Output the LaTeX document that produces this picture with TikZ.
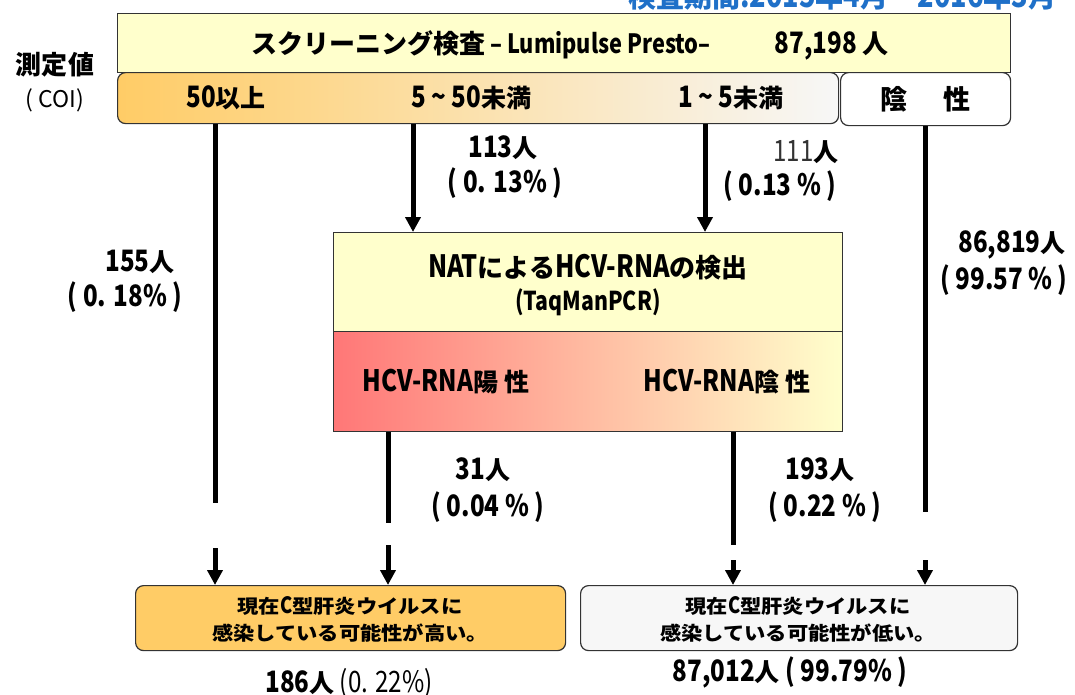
\documentclass[tikz,border=0pt]{standalone}
\usepackage{fontspec}
\setmainfont{Noto Sans CJK JP}
\newfontfamily\cn{Noto Sans CJK JP}[FakeStretch=0.82, Scale=1.18]
\newfontfamily\widejp{Noto Sans CJK JP}[FakeStretch=1.12]
\usetikzlibrary{arrows.meta}
\definecolor{yel}{HTML}{FFFFCC}
\definecolor{org}{HTML}{FFCC66}
\definecolor{barR}{HTML}{F7F7F7}
\definecolor{redL}{HTML}{FF7777}
\definecolor{bord}{HTML}{333333}
\definecolor{ttl}{HTML}{1F70C8}
\definecolor{gbox}{HTML}{F7F7F7}
\newcommand{\tld}{\char"7E\relax}
\tikzset{
  box/.style={draw=bord, line width=1.2pt, anchor=north west, inner sep=0pt},
  rbox/.style={box, rounded corners=8pt},
  lbl/.style={font=\bfseries\fontsize{25}{29}\selectfont, inner sep=0pt},
  flow/.style={line width=5pt},
  arr/.style={line width=5pt, -{Triangle[length=15pt,width=15pt]}},
}
\begin{document}
\begin{tikzpicture}[x=1pt,y=-1pt]
\useasboundingbox (0,0) rectangle (1075,694);
% cut-off period title
\node[anchor=base west, text=ttl, font=\bfseries\fontsize{28}{30}\selectfont, inner sep=0pt] (period) at (628,7) {検査期間{\cn :2015}年{\cn 4}月 {\cn \tld} {\cn 2016}年{\cn 3}月};
% bar and boxes
\node[rbox, left color=org, right color=barR, minimum width=721pt, minimum height=51pt] (bar) at (117,72) {};
\node[box, fill=yel, minimum width=893pt, minimum height=59pt] (top) at (117,13) {};
\node[rbox, fill=white, minimum width=170pt, minimum height=53pt] (neg) at (840,72) {};
\node[box, fill=yel, minimum width=509pt, minimum height=99pt] (natTop) at (333,232) {};
\node[box, left color=redL, right color=yel, minimum width=509pt, minimum height=100pt] (natBot) at (333,331) {};
\node[rbox, fill=org, minimum width=430pt, minimum height=65pt] (high) at (135,585) {};
\node[rbox, fill=gbox, minimum width=437pt, minimum height=65pt] (low) at (580,585) {};
% texts
\node[lbl, anchor=west] (hdr) at (251,45) {\fontsize{26}{30}\selectfont スクリーニング検査{\cn\fontsize{22.5}{30}\selectfont{} – Lumipulse Presto–}\hspace{64pt}{\cn\fontsize{25}{30}\selectfont 87,198 }人};
\node[lbl, font=\bfseries\fontsize{26}{30}\selectfont] (sokutei) at (55,65) {測定値};
\node[lbl, font=\fontsize{23}{26}\selectfont] (coi) at (55,100) {( COI)};
\node[lbl] (t50) at (226,98) {{\cn 50}以上};
\node[lbl] (t5) at (471,98) {{\cn 5 \tld\ 50}未満};
\node[lbl] (t1) at (731,98) {{\cn 1 \tld\ 5}未満};
\node[lbl, font=\bfseries\fontsize{27}{30}\selectfont] (tneg) at (925,99) {陰\hspace{36pt}性};
\node[lbl] (n113) at (503,148) {{\cn 113}人};
\node[lbl] (p113) at (505,183) {{\cn ( 0. 13\% )}};
\node[lbl] (n111) at (806,152) {{\cn\mdseries\color{bord}111}人};
\node[lbl] (p111) at (780,186) {{\cn ( 0.13 \% )}};
\node[lbl] (n155) at (140,262) {{\cn 155}人};
\node[lbl] (p155) at (125,297) {{\cn ( 0. 18\% )}};
\node[lbl] (n868) at (1012,245) {{\cn 86,819}人};
\node[lbl] (p868) at (1004,280) {{\cn ( 99.57 \% )}};
\node[lbl, font=\bfseries\fontsize{26}{30}\selectfont] (nat) at (588,267) {{\cn NAT}による{\cn HCV-RNA}の検出};
\node[lbl, font=\bfseries\fontsize{22}{30}\selectfont] (taq) at (588,302) {{\cn (TaqManPCR)}};
\node[lbl] (pos) at (446,382) {{\cn HCV-RNA}陽 性};
\node[lbl] (neg2) at (727,382) {{\cn HCV-RNA}陰 性};
\node[lbl] (n31) at (483,470) {{\cn 31}人};
\node[lbl] (p31) at (488,507) {{\cn ( 0.04 \% )}};
\node[lbl] (n193) at (820,470) {{\cn 193}人};
\node[lbl] (p193) at (825,507) {{\cn ( 0.22 \% )}};
\node[lbl, font=\widejp\bfseries\fontsize{19}{27}\selectfont, align=center] (thigh) at (350,619) {現在{\cn C}型肝炎ウイルスに\\感染している可能性が高い。};
\node[lbl, font=\widejp\bfseries\fontsize{19}{27}\selectfont, align=center] (tlow) at (798,619) {現在{\cn C}型肝炎ウイルスに\\感染している可能性が低い。};
\node[lbl] (s186) at (349,683) {{\cn 186}人{\cn\mdseries{} (0. 22\%)}};
\node[lbl] (s870) at (790,672) {{\cn 87,012}人{\cn{} ( 99.79\% )}};
% connector coordinates
\coordinate (xa) at (215,0);
\coordinate (xb) at (413,0);
\coordinate (xc) at (705,0);
\coordinate (xd) at (925,0);
\coordinate (xe) at (388,0);
\coordinate (xf) at (733,0);
\coordinate (aEnd) at (215,503);
\coordinate (aStart) at (215,548);
\coordinate (dEnd) at (925,512);
\coordinate (dStart) at (925,560);
\coordinate (eEnd) at (388,523);
\coordinate (eStart) at (388,545);
\coordinate (fEnd) at (733,545);
\coordinate (fStart) at (733,560);
% connectors
\draw[arr] (bar.south -| xb) -- (natTop.north -| xb);
\draw[arr] (bar.south -| xc) -- (natTop.north -| xc);
\draw[flow] (bar.south -| xa) -- (aEnd);
\draw[arr] (aStart) -- (high.north -| xa);
\draw[flow] (neg.south -| xd) -- (dEnd);
\draw[arr] (dStart) -- (low.north -| xd);
\draw[flow] (natBot.south -| xe) -- (eEnd);
\draw[arr] (eStart) -- (high.north -| xe);
\draw[flow] (natBot.south -| xf) -- (fEnd);
\draw[arr] (fStart) -- (low.north -| xf);
\end{tikzpicture}
\end{document}
